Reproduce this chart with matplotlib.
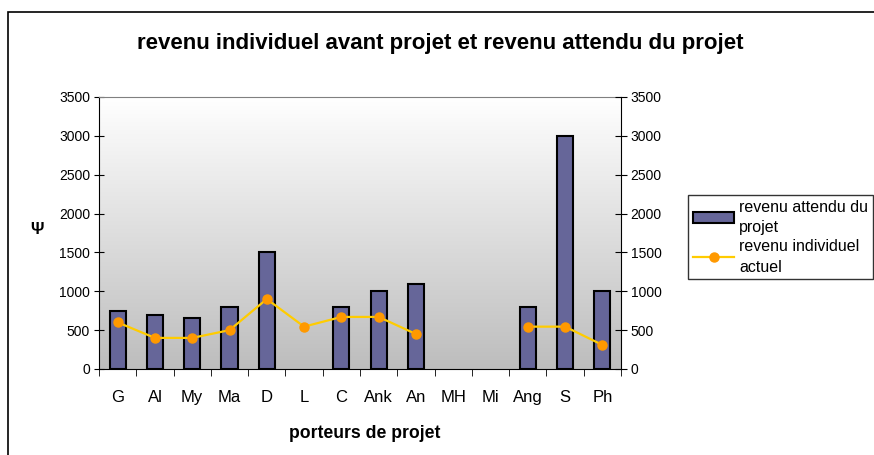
import numpy as np
import matplotlib
matplotlib.use('Agg')
import matplotlib.pyplot as plt
from matplotlib.patches import Rectangle

# porteurs de projet (x axis)
porteurs = ['G', 'Al', 'My', 'Ma', 'D', 'L', 'C', 'Ank', 'An', 'MH', 'Mi', 'Ang', 'S', 'Ph']
# revenu attendu du projet (bars), nan = no bar
revenu_attendu = [750, 700, 650, 800, 1500, np.nan, 800, 1000, 1100, np.nan, np.nan, 800, 3000, 1000]
# revenu individuel actuel (line), nan = gap
revenu_actuel = [600, 400, 400, 500, 900, 545, 670, 670, 450, np.nan, np.nan, 545, 545, 310]

plt.rcParams['font.family'] = ['Liberation Sans', 'DejaVu Sans']

fig = plt.figure(figsize=(8.74, 4.55), dpi=100)
# outer chart border, runs off the right and bottom edges
fig.patches.append(Rectangle((8/874, -0.05), 1.0, 1 - 12/455 + 0.05, transform=fig.transFigure,
                             fill=False, edgecolor='black', linewidth=1.2))

ax = fig.add_axes([99/874, 1 - 369/455, 522/874, 272/455])
x = np.arange(len(porteurs))

# grey gradient background of plot area, white at top
grad = np.linspace(0, 1, 256).reshape(-1, 1)
ax.imshow(grad, cmap=matplotlib.colors.LinearSegmentedColormap.from_list('g', ['#ffffff', '#bdbdbd']),
          extent=[-0.5, len(porteurs) - 0.5, 0, 3500], origin='upper', aspect='auto', zorder=0)

ax.bar(x, revenu_attendu, width=0.43, color='#666699', edgecolor='black', linewidth=1.5, zorder=2,
       label='revenu attendu du\nprojet')
ax.set_xlim(-0.5, len(porteurs) - 0.5)
ax.set_ylim(0, 3500)
ax.set_yticks(range(0, 3501, 500))
ax.tick_params(axis='y', direction='inout', length=7, labelsize=10, pad=3)

ax.set_xticks(x)
ax.set_xticklabels(porteurs, fontsize=12)
ax.set_xticks(np.arange(-0.5, len(porteurs)), minor=True)
ax.tick_params(axis='x', which='major', length=0, pad=15)
ax.tick_params(axis='x', which='minor', direction='out', length=5)

ax.spines['top'].set_color('#808080')
ax.spines['right'].set_visible(False)

ax2 = ax.twinx()
ax2.set_ylim(0, 3500)
ax2.set_yticks(range(0, 3501, 500))
ax2.tick_params(axis='y', direction='inout', length=8, labelsize=10, pad=3)
ax2.plot(x, revenu_actuel, color='#ffcc00', linewidth=1.6, marker='o', markersize=6.5,
         markerfacecolor='#ff9900', markeredgecolor='#ff9900', zorder=3, label='revenu individuel\nactuel')
for s in ['top', 'left', 'bottom']:
    ax2.spines[s].set_visible(False)

fig.text(440/874, 1 - 43/455, 'revenu individuel avant projet et revenu attendu du projet',
         ha='center', va='center', fontsize=16, fontweight='bold')
fig.text(365/874, 1 - 433/455, 'porteurs de projet', ha='center', va='center', fontsize=12.7, fontweight='bold')
fig.text(37/874, 1 - 230/455, 'Ψ', ha='center', va='center', fontsize=12, fontweight='bold')

h1, l1 = ax.get_legend_handles_labels()
h2, l2 = ax2.get_legend_handles_labels()
leg = fig.legend(h1 + h2, l1 + l2, loc='upper left', bbox_to_anchor=(688/874, 1 - 195/455),
                 fontsize=11.5, frameon=True, fancybox=False, edgecolor='black', borderaxespad=0,
                 handlelength=2.6, handletextpad=0.3, borderpad=0.3, labelspacing=0.25)
leg.get_frame().set_linewidth(1.0)
for t in leg.get_texts():
    t.set_linespacing(1.45)

fig.savefig('out.png', dpi=100)
